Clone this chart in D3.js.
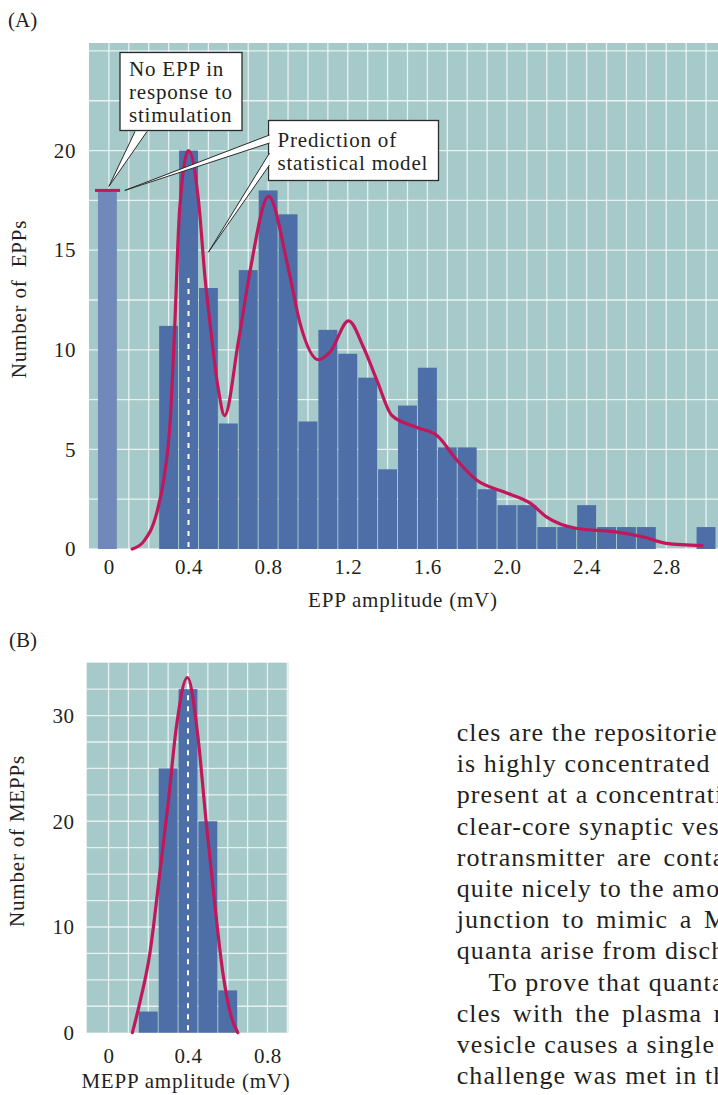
<!DOCTYPE html>
<html>
<head>
<meta charset="utf-8">
<script src="https://cdn.jsdelivr.net/npm/d3@7"></script>
<style>
body { margin: 0; background: #fff; }
svg text { font-family: "Liberation Serif", "Times New Roman", serif; fill: #231f20; }
</style>
</head>
<body>
<div id="chart"></div>
<script>
//////////////////////////// data ////////////////////////////

// (A) EPP amplitudes, bins 0.1 mV wide (bin centres)
var eppFailures = 18;           // no EPP in response to stimulation, at 0 mV
var eppBins = [0.3, 0.4, 0.5, 0.6, 0.7, 0.8, 0.9, 1.0, 1.1, 1.2, 1.3, 1.4, 1.5, 1.6,
               1.7, 1.8, 1.9, 2.0, 2.1, 2.2, 2.3, 2.4, 2.5, 2.6, 2.7, 2.8, 2.9, 3.0];
var eppCounts = [11.2, 20, 13.1, 6.3, 14, 18, 16.8, 6.4, 11, 9.8, 8.6, 4, 7.2, 9.1,
                 5.1, 5.1, 3, 2.2, 2.2, 1.1, 1.1, 2.2, 1.1, 1.1, 1.1, 0, 0, 1.1];
// prediction of statistical model
var eppFitX = [0.117, 0.174, 0.24, 0.275, 0.308, 0.33, 0.355, 0.40, 0.45, 0.484, 0.506, 0.55, 0.581,
               0.651, 0.71, 0.802, 0.903, 0.961, 1.053, 1.112, 1.204, 1.28, 1.347, 1.422, 1.548,
               1.648, 1.749, 1.849, 1.983, 2.117, 2.2, 2.352, 2.536, 2.686, 2.80, 2.98];
var eppFitY = [0, 0.37, 1.8, 3.45, 6.45, 11.0, 17.0, 20.0, 17.5, 13.5, 11.5, 8.0, 6.7,
               10.45, 14.0, 17.7, 14.0, 11.3, 9.5, 9.9, 11.45, 10.1, 8.45, 6.7, 6.1,
               5.7, 4.45, 3.45, 2.87, 2.3, 1.6, 1.03, 0.87, 0.6, 0.28, 0.17];
var eppTicksX = [0, 0.4, 0.8, 1.2, 1.6, 2.0, 2.4, 2.8];
var eppTicksY = [0, 5, 10, 15, 20];

// (B) spontaneous MEPP amplitudes
var meppBins = [0.2, 0.3, 0.4, 0.5, 0.6];
var meppCounts = [2, 25, 32.5, 20, 4];
var meppFitX = [0.12, 0.157, 0.208, 0.258, 0.30, 0.342, 0.397, 0.45, 0.49, 0.534, 0.576, 0.618, 0.651];
var meppFitY = [0, 2.8, 7.5, 15.1, 21.7, 29, 33.6, 28, 20.2, 12.3, 5.6, 1.5, 0];
var meppTicksX = [0, 0.4, 0.8];
var meppTicksY = [0, 10, 20, 30];

var quantalSize = 0.4;   // mV, dashed line in both panels

var bodyLines = [
  "cles are the repositories of",
  "is highly concentrated in",
  "present at a concentration",
  "clear-core synaptic vesicles",
  "rotransmitter are contained",
  "quite nicely to the amount",
  "junction to mimic a MEPP.",
  "quanta arise from discharge",
  "To prove that quanta",
  "cles with the plasma membrane",
  "vesicle causes a single",
  "challenge was met in the"
];

//////////////////////////// colours ////////////////////////////
var bgColor = "#a6c9c9",
    barColor = "#4d6ea6",
    failColor = "#7088ba",
    fitColor = "#c2185b",
    gridColor = "rgba(255,255,255,0.75)";

var svg = d3.select("#chart").append("svg")
    .attr("width", 718)
    .attr("height", 1095);

function fmt(d) { return d === 0 ? "0" : d3.format(".1f")(d); }

///////////////////////////////////////////////////////////////
//////////////////////////// Panel A //////////////////////////
///////////////////////////////////////////////////////////////

var xA = d3.scaleLinear().domain([-0.1, 3.06]).range([89, 718]);
var yA = d3.scaleLinear().domain([0, 25.4]).range([549, 43]);

svg.append("text").attr("x", 8).attr("y", 27)
    .style("font-size", "21px").text("(A)");

var gA = svg.append("g");

gA.append("rect")
    .attr("x", xA(-0.1)).attr("y", yA(25.4))
    .attr("width", xA(3.06) - xA(-0.1)).attr("height", yA(0) - yA(25.4))
    .attr("fill", bgColor);

//grid
gA.selectAll(".vgrid").data(d3.range(0, 31).map(function(i){ return i / 10; }))
  .enter().append("line")
    .attr("x1", function(d){ return xA(d); }).attr("x2", function(d){ return xA(d); })
    .attr("y1", yA(25.4)).attr("y2", yA(0))
    .attr("stroke", gridColor).attr("stroke-width", 1.3);
gA.selectAll(".hgrid").data(d3.range(0, 11).map(function(i){ return i * 2.5; }))
  .enter().append("line")
    .attr("x1", xA(-0.1)).attr("x2", xA(3.06))
    .attr("y1", function(d){ return yA(d); }).attr("y2", function(d){ return yA(d); })
    .attr("stroke", gridColor).attr("stroke-width", 1.3);

//bars
var bwA = xA(0.1) - xA(0);
gA.append("rect")
    .attr("x", xA(-0.05) - 1).attr("width", bwA - 1)
    .attr("y", yA(eppFailures)).attr("height", yA(0) - yA(eppFailures))
    .attr("fill", failColor);

gA.selectAll(".bar").data(eppBins)
  .enter().append("rect")
    .attr("x", function(d){ return xA(d - 0.05) + 0.5; })
    .attr("width", bwA - 1)
    .attr("y", function(d, i){ return yA(eppCounts[i]); })
    .attr("height", function(d, i){ return yA(0) - yA(eppCounts[i]); })
    .attr("fill", barColor);

//dashed line at quantal size
gA.append("line")
    .attr("x1", xA(quantalSize)).attr("x2", xA(quantalSize))
    .attr("y1", yA(13.6)).attr("y2", yA(0))
    .attr("stroke", "#fff").attr("stroke-width", 2).attr("stroke-dasharray", "5,6");

//fit curve
var lineA = d3.line()
    .x(function(d){ return xA(d[0]); })
    .y(function(d){ return yA(d[1]); })
    .curve(d3.curveMonotoneX);
gA.append("path")
    .attr("d", lineA(d3.zip(eppFitX, eppFitY)))
    .attr("fill", "none").attr("stroke", fitColor).attr("stroke-width", 3.2)
    .attr("stroke-linecap", "round");

//marker for failures
gA.append("line")
    .attr("x1", xA(-0.07)).attr("x2", xA(0.056))
    .attr("y1", yA(eppFailures)).attr("y2", yA(eppFailures))
    .attr("stroke", fitColor).attr("stroke-width", 3);

//axes
var axYA = gA.append("g").attr("transform", "translate(" + xA(-0.1) + ",0)")
    .call(d3.axisLeft(yA).tickValues(eppTicksY).tickSize(0).tickPadding(13));
var axXA = gA.append("g").attr("transform", "translate(0," + yA(0) + ")")
    .call(d3.axisBottom(xA).tickValues(eppTicksX).tickFormat(fmt).tickSize(0).tickPadding(10));
[axYA, axXA].forEach(function(ax){
  ax.select(".domain").remove();
  ax.selectAll("text").style("font-size", "21px").style("letter-spacing", "0.6px")
    .attr("font-family", null).style("fill", "#231f20");
});

gA.append("text")
    .attr("x", 403).attr("y", 607)
    .attr("text-anchor", "middle")
    .style("font-size", "21px").style("letter-spacing", "0.8px")
    .text("EPP amplitude (mV)");

gA.append("text")
    .attr("transform", "translate(26,299) rotate(-90)")
    .attr("text-anchor", "middle")
    .style("font-size", "21px").style("letter-spacing", "0.8px")
    .style("white-space", "pre")
    .text("Number of  EPPs");

//callouts
function callout(g, box, lines, lineY, wedges) {
  g.append("rect")
    .attr("x", box[0]).attr("y", box[1]).attr("width", box[2]).attr("height", box[3])
    .attr("fill", "#fff").attr("stroke", "#2b2b2b").attr("stroke-width", 1.3);
  wedges.forEach(function(w){
    g.append("path")
      .attr("d", "M" + w[0][0] + "," + w[0][1] + "L" + w[2][0] + "," + w[2][1] + "L" + w[1][0] + "," + w[1][1] + "Z")
      .attr("fill", "#fff");
    g.append("path")
      .attr("d", "M" + w[0][0] + "," + w[0][1] + "L" + w[2][0] + "," + w[2][1] + "L" + w[1][0] + "," + w[1][1])
      .attr("fill", "none").attr("stroke", "#2b2b2b").attr("stroke-width", 1);
  });
  lines.forEach(function(t, i){
    g.append("text")
      .attr("x", box[0] + 9).attr("y", lineY[i])
      .style("font-size", "21px").style("letter-spacing", "0.8px")
      .text(t);
  });
}

callout(gA, [120, 52.5, 122, 78], ["No EPP in", "response to", "stimulation"], [76, 99, 122],
  [[[135, 131.5], [147, 131.5], [xA(0), yA(eppFailures) - 4]]]);

callout(gA, [268.5, 120.5, 170, 60], ["Prediction of", "statistical model"], [147, 170],
  [[[269.5, 135], [269.5, 143], [xA(0.08), yA(eppFailures)]],
   [[269.5, 153], [269.5, 165], [xA(0.5), yA(14.9)]]]);

///////////////////////////////////////////////////////////////
//////////////////////////// Panel B //////////////////////////
///////////////////////////////////////////////////////////////

var xB = d3.scaleLinear().domain([-0.11, 0.905]).range([86.7, 288.3]);
var yB = d3.scaleLinear().domain([0, 35]).range([1032.7, 662.7]);

svg.append("text").attr("x", 9).attr("y", 647)
    .style("font-size", "21px").text("(B)");

var gB = svg.append("g");

gB.append("rect")
    .attr("x", xB(-0.11)).attr("y", yB(35))
    .attr("width", xB(0.905) - xB(-0.11)).attr("height", yB(0) - yB(35))
    .attr("fill", bgColor);

gB.selectAll(".vgrid").data(d3.range(0, 10).map(function(i){ return i / 10; }))
  .enter().append("line")
    .attr("x1", function(d){ return xB(d); }).attr("x2", function(d){ return xB(d); })
    .attr("y1", yB(35)).attr("y2", yB(0))
    .attr("stroke", gridColor).attr("stroke-width", 1.3);
gB.selectAll(".hgrid").data(d3.range(1, 14).map(function(i){ return i * 2.5; }))
  .enter().append("line")
    .attr("x1", xB(-0.11)).attr("x2", xB(0.905))
    .attr("y1", function(d){ return yB(d); }).attr("y2", function(d){ return yB(d); })
    .attr("stroke", gridColor).attr("stroke-width", 1.3);

var bwB = xB(0.1) - xB(0);
gB.selectAll(".bar").data(meppBins)
  .enter().append("rect")
    .attr("x", function(d){ return xB(d - 0.05) + 0.5; })
    .attr("width", bwB - 1)
    .attr("y", function(d, i){ return yB(meppCounts[i]); })
    .attr("height", function(d, i){ return yB(0) - yB(meppCounts[i]); })
    .attr("fill", barColor);

gB.append("line")
    .attr("x1", xB(quantalSize)).attr("x2", xB(quantalSize))
    .attr("y1", yB(34)).attr("y2", yB(0))
    .attr("stroke", "#fff").attr("stroke-width", 2).attr("stroke-dasharray", "5,6");

var lineB = d3.line()
    .x(function(d){ return xB(d[0]); })
    .y(function(d){ return yB(d[1]); })
    .curve(d3.curveMonotoneX);
gB.append("path")
    .attr("d", lineB(d3.zip(meppFitX, meppFitY)))
    .attr("fill", "none").attr("stroke", fitColor).attr("stroke-width", 3.2)
    .attr("stroke-linecap", "round");

var axYB = gB.append("g").attr("transform", "translate(" + xB(-0.11) + ",0)")
    .call(d3.axisLeft(yB).tickValues(meppTicksY).tickSize(0).tickPadding(12));
var axXB = gB.append("g").attr("transform", "translate(0," + yB(0) + ")")
    .call(d3.axisBottom(xB).tickValues(meppTicksX).tickFormat(fmt).tickSize(0).tickPadding(15));
[axYB, axXB].forEach(function(ax){
  ax.select(".domain").remove();
  ax.selectAll("text").style("font-size", "21px").style("letter-spacing", "0.6px")
    .attr("font-family", null).style("fill", "#231f20");
});

gB.append("text")
    .attr("x", 186).attr("y", 1088)
    .attr("text-anchor", "middle")
    .style("font-size", "21px").style("letter-spacing", "0.8px")
    .text("MEPP amplitude (mV)");

gB.append("text")
    .attr("transform", "translate(24,841) rotate(-90)")
    .attr("text-anchor", "middle")
    .style("font-size", "21px").style("letter-spacing", "0.8px")
    .text("Number of MEPPs");

///////////////////////////////////////////////////////////////
//////////////////////// running text /////////////////////////
///////////////////////////////////////////////////////////////

var wideLines = [4, 6, 9];   //justified lines with extra word spacing
svg.append("g").selectAll("text").data(bodyLines)
  .enter().append("text")
    .attr("x", function(d, i){ return i === 8 ? 488.5 : 456.7; })
    .attr("y", function(d, i){ return 741 + i * 31.2; })
    .style("font-size", "26px")
    .style("letter-spacing", "1.1px")
    .style("word-spacing", function(d, i){ return wideLines.indexOf(i) >= 0 ? "4px" : "0px"; })
    .text(function(d){ return d; });
</script>
</body>
</html>
